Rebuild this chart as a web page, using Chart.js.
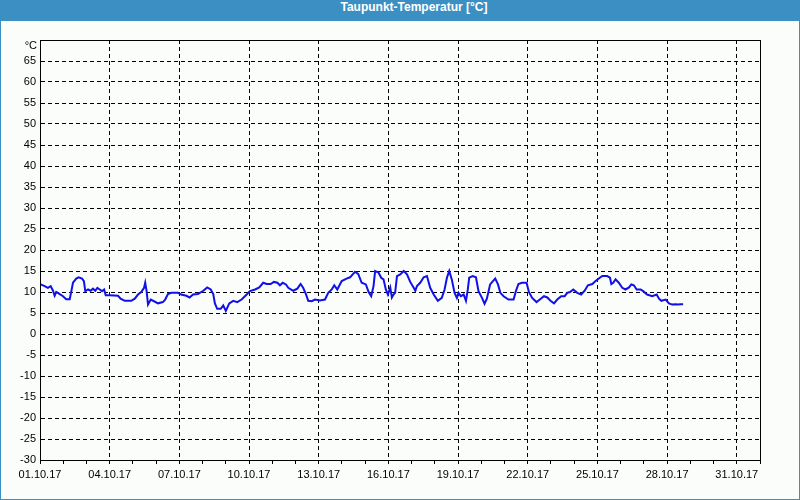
<!DOCTYPE html>
<html>
<head>
<meta charset="utf-8">
<script src="https://cdn.jsdelivr.net/npm/chart.js@4/dist/chart.umd.min.js"></script>
<style>
  html, body { margin: 0; padding: 0; }
  body { width: 800px; height: 500px; overflow: hidden; background: #fbfdfb; }
  #frame { position: relative; width: 798px; height: 499px; border: 1px solid #3c8fc2; border-top: none; background: #fbfdfb; }
  #header { height: 21px; line-height: 21px; background: #3c8fc2; color: #fff; font: bold 12px "Liberation Sans", Arial, sans-serif; text-align: center; padding-left: 28px; margin: 0 -1px; }
  #wrap { position: absolute; left: -1px; top: 21px; width: 800px; height: 479px; }
</style>
</head>
<body>
<div id="frame">
  <div id="header">Taupunkt-Temperatur [°C]</div>
  <div id="wrap"><canvas id="c" width="800" height="479"></canvas></div>
</div>
<script>
// Time in days after 01.10.17 00:00
const dayOffsets = [
  0.03, 0.2, 0.34, 0.46, 0.56, 0.63, 0.7, 0.85, 0.99, 1.13, 1.28, 1.35, 1.42, 1.56, 1.66, 1.81, 1.89, 1.95,
  2.07, 2.18, 2.28, 2.38, 2.47, 2.57, 2.67, 2.76, 2.83, 3.0, 3.36, 3.47, 3.65, 3.93, 4.08, 4.22, 4.36, 4.48,
  4.53, 4.59, 4.65, 4.77, 4.91, 5.08, 5.29, 5.39, 5.51, 5.65, 5.94, 6.08, 6.3, 6.44, 6.59, 6.8, 7.03, 7.2,
  7.35, 7.46, 7.53, 7.63, 7.78, 7.89, 8.0, 8.15, 8.32, 8.49, 8.68, 8.9, 9.04, 9.26, 9.44, 9.61, 9.76, 9.93,
  10.07, 10.22, 10.33, 10.45, 10.59, 10.69, 10.9, 11.08, 11.22, 11.33, 11.45, 11.55, 11.7, 11.84, 12.05, 12.27,
  12.41, 12.56, 12.67, 12.8, 12.99, 13.2, 13.35, 13.56, 13.7, 13.85, 14.03, 14.15, 14.26, 14.36, 14.43, 14.58,
  14.69, 14.79, 14.89, 14.98, 15.08, 15.15, 15.22, 15.29, 15.37, 15.51, 15.66, 15.8, 15.94, 16.09, 16.16, 16.23,
  16.37, 16.52, 16.66, 16.8, 16.95, 17.13, 17.3, 17.42, 17.52, 17.62, 17.73, 17.85, 17.95, 18.02, 18.12, 18.24,
  18.34, 18.42, 18.48, 18.63, 18.77, 18.88, 19.03, 19.14, 19.24, 19.38, 19.5, 19.6, 19.72, 19.82, 19.96, 20.17,
  20.39, 20.49, 20.6, 20.75, 20.95, 21.05, 21.19, 21.38, 21.52, 21.7, 21.84, 21.98, 22.13, 22.27, 22.44, 22.59,
  22.7, 22.82, 22.96, 23.13, 23.3, 23.45, 23.59, 23.78, 23.92, 24.06, 24.21, 24.42, 24.54, 24.6, 24.68, 24.78,
  24.92, 25.07, 25.21, 25.36, 25.46, 25.57, 25.69, 25.86, 25.97, 26.14, 26.36, 26.55, 26.65, 26.75, 26.94, 27.08,
  27.22, 27.37, 27.46, 27.58, 27.69
];
// Dew point in °C
const dewPoint = [
  11.8, 11.4, 11.0, 11.4, 10.3, 9.1, 10.0, 9.5, 9.0, 8.3, 8.3, 10.2, 12.2, 13.2, 13.5, 13.2, 12.6, 10.2,
  10.6, 10.3, 10.8, 10.3, 11.0, 10.6, 10.2, 10.6, 9.2, 9.2, 9.1, 8.4, 7.9, 7.9, 8.4, 9.4, 10.0, 11.0,
  12.2, 10.2, 7.0, 8.2, 7.8, 7.3, 7.6, 8.2, 9.5, 9.8, 9.8, 9.4, 9.1, 8.7, 9.4, 9.5, 10.3, 11.1,
  10.6, 9.5, 7.3, 6.0, 6.0, 6.8, 5.5, 7.3, 7.9, 7.6, 8.2, 9.4, 10.2, 10.6, 11.1, 12.2, 11.9, 11.9,
  12.4, 12.2, 11.6, 12.2, 11.8, 11.0, 10.3, 10.8, 11.9, 11.0, 9.5, 7.9, 7.8, 8.2, 8.0, 8.2,
  9.8, 10.6, 11.6, 10.6, 12.6, 13.2, 13.5, 14.8, 14.3, 12.2, 11.8, 10.0, 9.0, 11.4, 15.0, 14.6,
  13.4, 13.0, 10.6, 9.4, 11.1, 8.7, 9.4, 9.8, 13.8, 14.2, 15.0, 14.2, 12.4, 11.0, 10.3, 11.4,
  12.2, 13.5, 13.8, 11.0, 9.4, 7.9, 8.6, 10.6, 13.4, 15.0, 13.0, 9.8, 8.6, 9.8, 9.0, 9.4,
  7.9, 10.6, 13.4, 13.8, 13.5, 10.2, 8.6, 7.2, 8.4, 11.8, 12.6, 13.2, 11.8, 9.8, 9.0, 8.2,
  8.2, 10.2, 11.9, 12.2, 12.2, 10.0, 8.6, 7.6, 8.2, 9.0, 8.7, 7.9, 7.3, 8.2, 9.0, 9.0,
  9.8, 10.0, 10.6, 9.8, 9.4, 10.3, 11.6, 11.9, 12.6, 13.2, 13.8, 13.8, 13.4, 11.9, 12.2, 13.0,
  12.2, 11.0, 10.6, 11.1, 11.8, 11.6, 10.6, 10.6, 10.2, 9.4, 9.0, 9.4, 8.4, 7.9, 8.2, 7.3,
  7.0, 7.1, 7.0, 7.1, 7.1
];
const startDay = 1, monthLabel = '10', yearLabel = '17';
const xMin = 0, xMax = 31, xLabelEvery = 3;
const yMin = -30, yMax = 70, yStep = 5;
const yTopLabel = '°C';

const points = dayOffsets.map((d, i) => ({ x: d, y: dewPoint[i] }));
const fontFamily = '"Liberation Sans", Arial, sans-serif';
const fontSpec = { family: fontFamily, size: 11 };

const frame = {
  id: 'frame',
  afterDraw(chart) {
    const { ctx, chartArea: a } = chart;
    ctx.save();
    ctx.strokeStyle = '#000';
    ctx.lineWidth = 1;
    ctx.strokeRect(Math.round(a.left) + 0.5, Math.round(a.top) + 0.5, Math.round(a.right - a.left), Math.round(a.bottom - a.top));
    // unit label at the top of the value axis
    ctx.fillStyle = '#000';
    ctx.font = '11px ' + fontFamily;
    ctx.textAlign = 'right';
    ctx.textBaseline = 'middle';
    ctx.fillText(yTopLabel, a.left - 3, a.top + 6);
    ctx.restore();
  }
};

new Chart(document.getElementById('c'), {
  type: 'line',
  data: {
    datasets: [{
      data: points,
      borderColor: '#1010e8',
      borderWidth: 2,
      pointRadius: 0,
      tension: 0,
      fill: false
    }]
  },
  options: {
    responsive: false,
    animation: false,
    layout: { padding: { left: 0, right: 40, top: 19, bottom: 0 } },
    plugins: { legend: { display: false }, tooltip: { enabled: false } },
    scales: {
      x: {
        type: 'linear',
        min: xMin, max: xMax,
        afterFit(s) { s.height = 40; },
        border: { color: '#000', width: 1, dash: [4, 3] },
        grid: {
          color: (c) => (c.tick && c.tick.value % xLabelEvery === 0 && c.tick.value > xMin) ? '#000' : 'rgba(0,0,0,0)',
          tickColor: '#000',
          tickLength: 4,
          lineWidth: 1
        },
        ticks: {
          stepSize: 1,
          autoSkip: false,
          maxRotation: 0,
          padding: 4,
          color: '#000',
          font: fontSpec,
          callback: (v) => {
            if (v % xLabelEvery !== 0 || v >= xMax) return '';
            const d = String(startDay + v).padStart(2, '0');
            return d + '.' + monthLabel + '.' + yearLabel;
          }
        }
      },
      y: {
        min: yMin, max: yMax,
        afterFit(s) { s.width = 40; },
        border: { color: '#000', width: 1, dash: [4, 3] },
        grid: { color: '#000', lineWidth: 1, drawTicks: false },
        ticks: {
          stepSize: yStep,
          padding: 4,
          color: '#000',
          font: fontSpec,
          callback: (v) => v === yMax ? '' : String(v)
        }
      }
    }
  },
  plugins: [frame]
});
</script>
</body>
</html>
